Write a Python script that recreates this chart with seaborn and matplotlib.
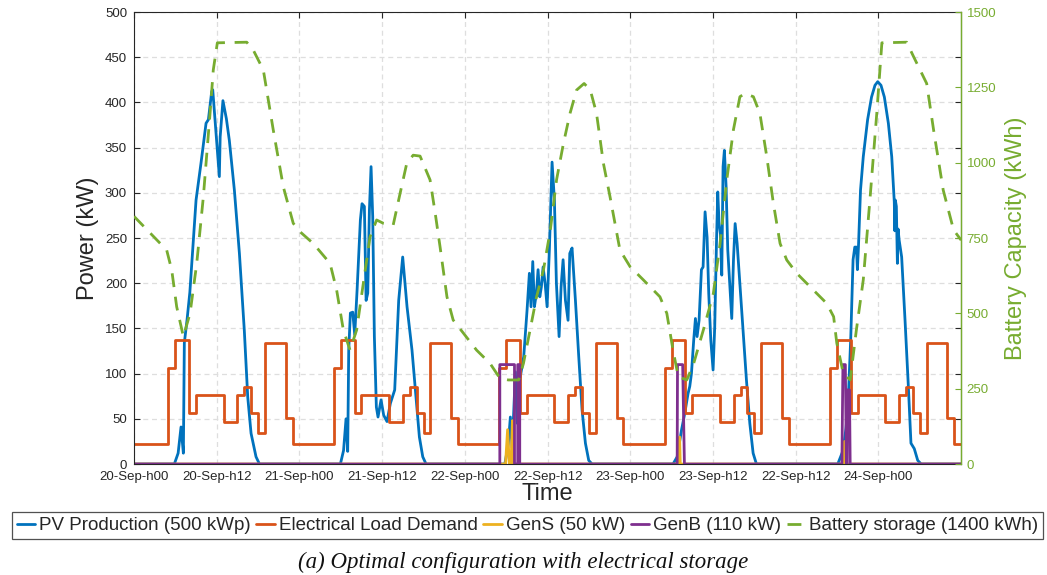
import numpy as np
import pandas as pd
import matplotlib
matplotlib.use("Agg")
import matplotlib.pyplot as plt
import seaborn as sns

# ---- time axis ----
hour_ticks = [0, 12, 24, 36, 48, 60, 72, 84, 96, 108]
tick_labels = ["20-Sep-h00", "20-Sep-h12", "21-Sep-h00", "21-Sep-h12", "22-Sep-h00",
               "22-Sep-h12", "23-Sep-h00", "23-Sep-h12", "22-Sep-h12", "24-Sep-h00"]

# ---- electrical load demand, hourly (kW) ----
load_kw = [
    22, 22, 22, 22, 22, 106, 137, 137, 56, 76, 76, 76, 76, 47, 47, 76, 85, 57, 34, 134, 134, 134, 51, 22,
    22, 22, 22, 22, 22, 106, 137, 137, 56, 76, 76, 76, 76, 47, 47, 76, 85, 57, 34, 134, 134, 134, 51, 22,
    22, 22, 22, 22, 22, 106, 137, 137, 56, 76, 76, 76, 76, 47, 47, 76, 85, 57, 34, 134, 134, 134, 51, 22,
    22, 22, 22, 22, 22, 106, 137, 137, 56, 76, 76, 76, 76, 47, 47, 76, 85, 57, 34, 134, 134, 134, 51, 22,
    22, 22, 22, 22, 22, 106, 137, 137, 56, 76, 76, 76, 76, 47, 47, 76, 85, 57, 34, 134, 134, 134, 51, 22,
]

# ---- PV production (kW) ----
pv_hours = [
    0, 5.85, 6.4, 6.82, 7.16, 7.3, 7.7, 8.1, 9.0, 9.72, 10.45, 10.79, 11.27, 11.42, 12.38, 12.5, 12.9,
    13.4, 13.83, 14.56, 15.29, 16.0, 16.5, 16.98, 17.7, 18.2,
    29.94, 30.4, 30.76, 31.0, 31.15, 31.39, 31.73, 32.02, 32.36, 32.84, 33.08, 33.42, 33.67, 33.91,
    34.15, 34.39, 34.63, 34.87, 35.16, 35.4, 35.84, 36.22, 36.7, 37.19, 37.82, 38.4, 38.98, 39.61,
    40.33, 40.82, 41.4, 41.89, 42.37,
    53.8, 54.3, 54.6, 54.85, 55.1, 55.33, 55.6, 55.9, 56.54, 57.02, 57.36, 57.6, 57.85, 58.09, 58.38,
    58.62, 58.87, 59.1, 59.35, 59.64, 59.93, 60.26, 60.65, 60.99, 61.28, 61.67, 61.96, 62.25, 62.59,
    62.97, 63.22, 63.55, 64.04, 64.52, 65.0, 65.49, 65.97, 66.45,
    78.2, 78.8, 79.44, 79.9, 80.38, 80.63, 80.87, 81.2, 81.45, 81.69, 81.98, 82.32, 82.56, 82.85,
    83.14, 83.38, 83.68, 84.01, 84.25, 84.5, 84.69, 84.88, 85.07, 85.27, 85.46, 85.65, 85.9, 86.14,
    86.43, 86.72, 86.97, 87.21, 87.5, 87.89, 88.37, 88.85, 89.34, 89.82, 90.3,
    102.1, 102.87, 103.3, 103.6, 103.99, 104.32, 104.57, 104.81, 104.95, 105.1, 105.4, 105.8, 106.43,
    107.0, 107.5, 107.9, 108.37, 108.86, 109.44, 109.93, 110.3, 110.38, 110.45, 110.6, 110.75, 110.85,
    111.0, 111.37, 111.86, 112.34, 112.72, 113.2, 113.7, 114.2, 120,
]
pv_kw = [
    0, 0, 12, 41, 12, 134, 160, 190, 292, 333, 377, 381, 412, 414, 318, 362, 402,
    382, 358, 303, 233, 148, 74, 34, 8, 0,
    0, 15, 50, 14, 126, 167, 168, 143, 192, 270, 288, 285, 181, 189,
    281, 329, 274, 141, 63, 52, 71, 54, 47, 67, 82, 181, 229, 174,
    126, 82, 30, 8, 0,
    0, 22, 52, 18, 60, 102, 45, 90, 119, 170, 211, 174, 224, 174, 189,
    215, 185, 196, 218, 200, 174, 237, 334, 292, 200, 141, 196, 226, 181,
    159, 233, 239, 181, 119, 60, 23, 4, 0,
    0, 8, 38, 56, 78, 86, 100, 137, 161, 141, 159, 215, 218, 279,
    251, 189, 137, 104, 152, 244, 301, 266, 255, 209, 329, 347, 307, 237,
    200, 161, 226, 266, 244, 200, 145, 93, 45, 12, 0,
    0, 15, 40, 67, 141, 226, 240, 240, 215, 240, 303, 340, 381,
    406, 419, 423, 419, 406, 377, 340, 290, 258, 292, 285, 222, 260,
    248, 229, 159, 86, 23, 17, 4, 0, 0,
]

# ---- small diesel generator GenS (kW) ----
gens_hours = [0, 53.9, 54.2, 54.45, 54.7, 54.9, 55.1, 79.05, 79.15, 79.25, 102.95, 103.05, 103.15, 120]
gens_kw = [0, 0, 38, 0, 0, 48, 0, 0, 30, 0, 0, 25, 0, 0]

# ---- big diesel generator GenB (kW) ----
genb_hours = [0, 53.07, 53.07, 55.2, 55.2, 55.67, 55.67, 55.96, 55.96, 78.8, 78.85, 79.6, 79.85,
              102.7, 102.85, 103.2, 103.35, 103.45, 103.5, 103.8, 103.9, 120]
genb_kw = [0, 0, 110, 110, 0, 0, 110, 110, 0, 0, 110, 110, 0,
           0, 110, 110, 0, 0, 82, 82, 0, 0]

# ---- battery state of charge (kWh) ----
batt_hours = [
    0, 4.74, 5.47, 6.19, 7.16, 8.13, 9.1, 10.06, 11.03, 11.5, 12.09, 16.35, 17.3, 18.76, 20.2, 21.66,
    23.1, 24.08, 26.0, 28.44, 29.4, 30.37, 31.34, 32.3, 33.27, 34.24, 35.2, 36.17, 37.6, 38.6, 39.57,
    40.5, 41.5, 42.95, 43.7, 44.4, 45.4, 46.3, 47.8, 49.7, 51.65, 53.1, 54.3, 55.8, 56.5, 57.46, 58.4,
    59.4, 60.4, 61.3, 62.3, 63.26, 64.2, 65.3, 66.2, 67.1, 68.1, 69.06, 70.5, 71.97, 73.9, 76.3, 77.3,
    78.2, 78.96, 80.2, 81.2, 82.6, 84.05, 85.0, 86.0, 86.96, 87.9, 88.65, 89.86, 90.8, 91.8, 92.76,
    93.73, 94.7, 96.15, 98.1, 100.5, 101.5, 101.96, 102.9, 103.9, 104.8, 105.8, 106.8, 107.76, 108.5,
    112.1, 113.1, 115.0, 116.0, 117.4, 118.9, 120,
]
batt_kwh = [
    822, 710, 644, 522, 423, 500, 666, 887, 1164, 1308, 1398, 1400, 1374, 1308, 1109, 920,
    799, 771, 732, 666, 577, 445, 378, 445, 600, 754, 810, 799, 793, 898, 998,
    1025, 1022, 943, 832, 721, 555, 478, 434, 378, 334, 284, 279, 279, 334, 445, 555,
    644, 777, 943, 1064, 1164, 1241, 1263, 1241, 1164, 998, 887, 710, 655, 611, 555, 500,
    378, 290, 279, 334, 445, 566, 727, 943, 1109, 1219, 1230, 1219, 1164, 1020, 865,
    732, 677, 633, 588, 533, 489, 401, 301, 279, 445, 611, 887, 1164, 1398,
    1400, 1352, 1263, 1109, 909, 777, 743,
]

series_names = ["PV Production (500 kWp)", "Electrical Load Demand", "GenS (50 kW)",
                "GenB (110 kW)", "Battery storage (1400 kWh)"]
colors = ["#0072BD", "#D95319", "#EDB120", "#7E2F8E", "#77AC30"]
ink = "#262626"

sns.set_style("white")
plt.rcParams["font.family"] = ["Liberation Sans", "DejaVu Sans"]

fig = plt.figure(figsize=(10.47, 5.75), dpi=100)
ax = fig.add_axes([0.128, 0.193, 0.79, 0.786])
ax2 = ax.twinx()

load_hours = np.arange(len(load_kw) + 1)
load_vals = np.append(load_kw, load_kw[-1])

lw = 2.0
sns.lineplot(x=pv_hours, y=pv_kw, ax=ax, color=colors[0], lw=lw, sort=False, estimator=None,
             label=series_names[0], legend=False)
sns.lineplot(x=load_hours, y=load_vals, ax=ax, color=colors[1], lw=lw, sort=False, estimator=None,
             drawstyle="steps-post", label=series_names[1], legend=False)
sns.lineplot(x=gens_hours, y=gens_kw, ax=ax, color=colors[2], lw=lw, sort=False, estimator=None,
             label=series_names[2], legend=False)
sns.lineplot(x=genb_hours, y=genb_kw, ax=ax, color=colors[3], lw=lw, sort=False, estimator=None,
             label=series_names[3], legend=False)
sns.lineplot(x=batt_hours, y=batt_kwh, ax=ax2, color=colors[4], lw=lw, sort=False, estimator=None,
             label=series_names[4], legend=False)
ax2.lines[0].set_dashes([5, 3.5])

ax.set_xlim(0, 120)
ax.set_ylim(0, 500)
ax2.set_ylim(0, 1500)
ax.set_xticks(hour_ticks)
ax.set_xticklabels(tick_labels)
ax.set_yticks(np.arange(0, 501, 50))
ax2.set_yticks(np.arange(0, 1501, 250))

ax.grid(True, color="#dedede", ls=(0, (4, 3)), lw=0.9)
ax.set_axisbelow(True)

ax.tick_params(axis="both", direction="in", length=4, width=0.8, colors=ink, labelsize=9.5,
               top=True, right=True)
ax.tick_params(axis="x", pad=5)
ax.tick_params(axis="y", pad=5)
ax2.tick_params(axis="y", direction="in", length=4, width=0.8, colors=colors[4], labelsize=9.5, pad=4)
for s in ["left", "bottom", "top"]:
    ax.spines[s].set_color(ink)
    ax.spines[s].set_linewidth(0.8)
ax2.spines["right"].set_color(colors[4])
ax2.spines["right"].set_linewidth(1.0)
for s in ["left", "bottom", "top"]:
    ax2.spines[s].set_visible(False)

ax.set_xlabel("Time", fontsize=17, color=ink, labelpad=0)
ax.set_ylabel("Power (kW)", fontsize=17, color=ink, labelpad=4)
ax2.set_ylabel("Battery Capacity (kWh)", fontsize=17, color=colors[4], labelpad=6)

handles = ax.get_lines()[:4] + ax2.get_lines()[:1]
leg = fig.legend(handles, series_names, loc="center", ncol=5,
                 bbox_to_anchor=(12 / 1047, 1 - 538 / 575, 1031 / 1047, 25 / 575), mode="expand",
                 frameon=True, fancybox=False, handlelength=1.0, handletextpad=0.2,
                 columnspacing=0.4, borderaxespad=0, borderpad=0.25,
                 prop={"family": "Liberation Sans", "size": 13.5})
leg.get_frame().set_edgecolor(ink)
leg.get_frame().set_linewidth(0.9)

fig.text(0.5, 1 - 562 / 575, "(a) Optimal configuration with electrical storage",
         ha="center", va="center", fontsize=16.5, style="italic", family="Liberation Serif",
         color="#111111")

fig.savefig("out.png", dpi=100)
